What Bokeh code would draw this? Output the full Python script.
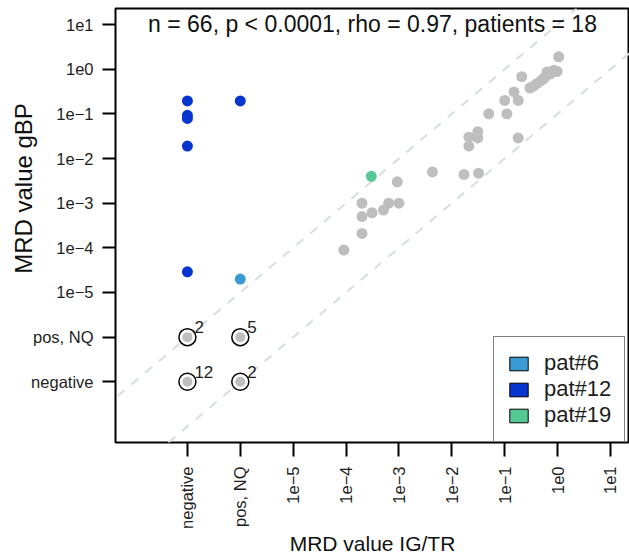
import numpy as np
from bokeh.plotting import figure
from bokeh.models import (ColumnDataSource, FixedTicker, Range1d, Slope, Label,
                          Legend, LegendItem)
from bokeh.embed import file_html
from bokeh.resources import INLINE

# ---------------- data ----------------
cat_pos = {"negative": -7, "pos, NQ": -6}
tick_values = [-7, -6, -5, -4, -3, -2, -1, 0, 1]
tick_labels = ["negative", "pos, NQ", "1e\u22125", "1e\u22124", "1e\u22123",
               "1e\u22122", "1e\u22121", "1e0", "1e1"]

# grey points: MRD IG/TR (x) vs MRD gBP (y)
gray_igtr = [9.1e-5, 2.0e-4, 2.0e-4, 3.1e-4, 5.1e-4, 2.0e-4, 6.4e-4, 1.0e-3, 9.3e-4,
             4.3e-3, 1.7e-2, 3.2e-2, 2.1e-2, 2.1e-2, 3.1e-2, 3.1e-2, 0.18, 0.05,
             0.11, 0.10, 0.18, 0.15, 0.21, 0.30, 0.41, 0.55, 0.73, 0.98, 1.05, 0.63,
             0.35, 0.48, 0.85, 0.60]
gray_gbp = [8.9e-5, 2.1e-4, 5.0e-4, 6.1e-4, 7.0e-4, 1.0e-3, 1.0e-3, 1.0e-3, 3.0e-3,
            5.0e-3, 4.4e-3, 4.7e-3, 1.9e-2, 3.0e-2, 4.0e-2, 2.9e-2, 2.9e-2, 0.10,
            0.10, 0.20, 0.20, 0.31, 0.68, 0.38, 0.48, 0.62, 0.79, 0.89, 1.9, 0.87,
            0.42, 0.55, 0.95, 0.70]

pat12_igtr = ["negative", "negative", "negative", "negative", "negative", "pos, NQ"]
pat12_gbp = [0.195, 0.093, 0.079, 0.019, 2.9e-5, 0.195]
pat6_igtr = ["pos, NQ"]
pat6_gbp = [2.0e-5]
pat19_igtr = [3.0e-4]
pat19_gbp = [4.0e-3]

cnt_igtr = ["negative", "pos, NQ", "negative", "pos, NQ"]
cnt_gbp = ["pos, NQ", "pos, NQ", "negative", "negative"]
cnt_n = ["2", "5", "12", "2"]

title_text = "n = 66, p < 0.0001, rho = 0.97, patients = 18"
x_title = "MRD value IG/TR"
y_title = "MRD value gBP"


def pos(v):
    return cat_pos[v] if isinstance(v, str) else float(np.log10(v))


def tr(vals):
    return [pos(v) for v in vals]


FONT = "Liberation Sans"
GRAY = "#bebebe"
C6 = "#3a9ad3"
C12 = "#0636cf"
C19 = "#55c896"

p = figure(width=629, height=557,
           x_range=Range1d(-8.36, 1.36), y_range=Range1d(-8.36, 1.36),
           output_backend="svg", toolbar_location=None,
           min_border_left=115, min_border_right=0,
           min_border_top=8, min_border_bottom=114)
p.grid.visible = False
p.outline_line_color = "black"
p.outline_line_width = 2
p.outline_line_alpha = 1.0
p.background_fill_color = "white"
p.border_fill_color = "white"

for ax in (p.xaxis[0], p.yaxis[0]):
    ax.ticker = FixedTicker(ticks=tick_values)
    ax.major_label_overrides = dict(zip(tick_values, tick_labels))
    ax.minor_tick_line_color = None
    ax.major_tick_in = 0
    ax.major_tick_out = 14
    ax.major_tick_line_width = 2
    ax.major_tick_line_color = "black"
    ax.axis_line_color = None
    ax.major_label_text_font = FONT
    ax.major_label_text_font_size = "16.5px"
    ax.major_label_text_color = "#1e1e1e"
    ax.axis_label_text_font = FONT
    ax.axis_label_text_font_size = "21px"
    ax.axis_label_text_font_style = "normal"
    ax.axis_label_text_color = "#111111"
    ax.axis_label_standoff = 0

p.xaxis.major_label_orientation = np.pi / 2
p.xaxis.major_label_standoff = 10
p.yaxis.major_tick_out = 13
p.yaxis.major_label_standoff = 9
p.xaxis.axis_label = x_title

# y-axis title placed in the left panel, shifted upward like the reference
p.add_layout(Label(x=22, y=254, x_units="screen", y_units="screen",
                   text=y_title, angle=np.pi / 2, text_align="center",
                   text_baseline="middle", text_font=FONT,
                   text_font_size="24px", text_color="#111111"), "left")

# identity +/- 1 log lines
for b in (1, -1):
    p.add_layout(Slope(gradient=1, y_intercept=b, line_color="#d6dede",
                       line_width=2, line_dash="9 9", level="underlay"))

# grey points
p.scatter(tr(gray_igtr), tr(gray_gbp), size=11, fill_color=GRAY, line_color=None)

# count rings
src_cnt = ColumnDataSource(dict(x=tr(cnt_igtr), y=tr(cnt_gbp), n=cnt_n))
p.scatter("x", "y", source=src_cnt, size=10, fill_color=GRAY, line_color=None)
p.scatter("x", "y", source=src_cnt, size=17, fill_color=None,
          line_color="black", line_width=1.5)
p.text("x", "y", text="n", source=src_cnt, x_offset=7, y_offset=-10,
       text_align="left", text_baseline="alphabetic",
       text_font_size="17px", text_color="#1e1e1e", text_font={"value": FONT})

# patient highlights
p.scatter(tr(pat12_igtr), tr(pat12_gbp), size=11, fill_color=C12, line_color=None)
p.scatter(tr(pat6_igtr), tr(pat6_gbp), size=11, fill_color=C6, line_color=None)
p.scatter(tr(pat19_igtr), tr(pat19_gbp), size=11, fill_color=C19, line_color=None)

# title inside the frame
p.add_layout(Label(x=-3.5, y=1.01, text=title_text, text_align="center",
                   text_baseline="middle", text_font=FONT,
                   text_font_size="23px", text_color="#111111"))


# legend swatches: zero-size quads at each patient's first point
def swatch(xs, ys, color):
    src = ColumnDataSource(dict(l=tr(xs), r=tr(xs), t=tr(ys), b=tr(ys)))
    return p.quad(left="l", right="r", top="t", bottom="b", source=src,
                  fill_color=color, line_color="black", line_width=1)


r6 = swatch(pat6_igtr, pat6_gbp, C6)
r12 = swatch(pat12_igtr[:1], pat12_gbp[:1], C12)
r19 = swatch(pat19_igtr, pat19_gbp, C19)
legend = Legend(items=[LegendItem(label="pat#6", renderers=[r6]),
                       LegendItem(label="pat#12", renderers=[r12]),
                       LegendItem(label="pat#19", renderers=[r19])],
                location=(378, 0), orientation="vertical",
                border_line_color="black", border_line_width=1.5,
                background_fill_color="white", background_fill_alpha=1.0,
                label_text_font=FONT, label_text_font_size="22px",
                label_text_color="#1e1e1e",
                glyph_width=23, glyph_height=17, label_standoff=14,
                padding=13, spacing=0, margin=0)
p.add_layout(legend)

open("out.html", "w").write(file_html(p, INLINE))
